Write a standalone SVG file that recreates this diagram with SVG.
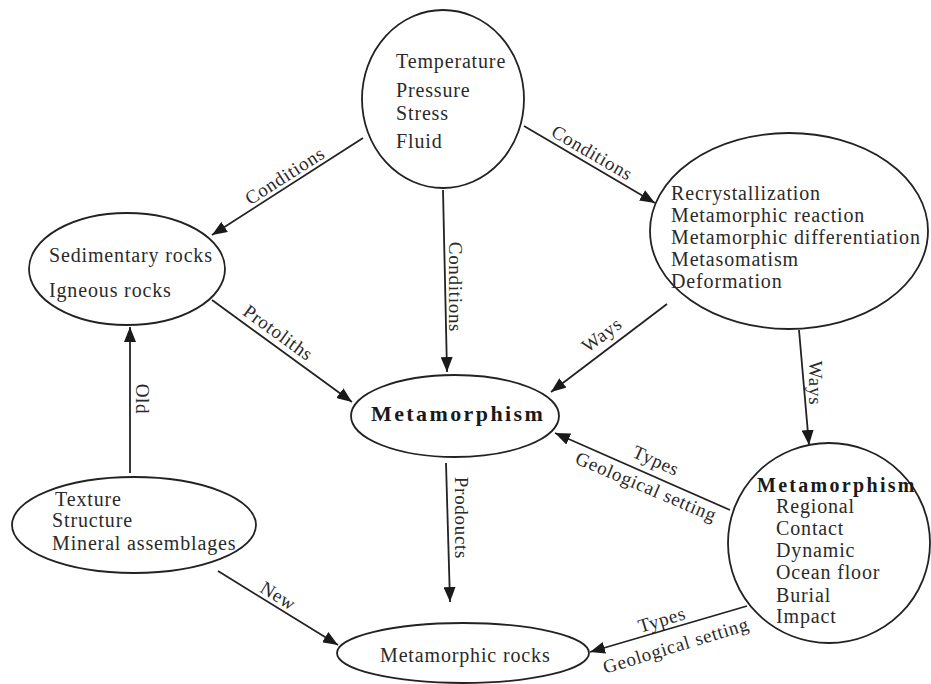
<svg xmlns="http://www.w3.org/2000/svg" width="931" height="684" viewBox="0 0 931 684">
<style>
.n{fill:none;stroke:#222;stroke-width:1.8}
.t{font-family:"Liberation Serif","Times New Roman",serif;font-size:20px;letter-spacing:0.85px;fill:#2a2a2a}
.b{font-family:"Liberation Serif","Times New Roman",serif;font-weight:bold;fill:#1a1a1a}
.l{font-family:"Liberation Serif","Times New Roman",serif;font-size:19px;letter-spacing:0.7px;fill:#2a2a2a;text-anchor:middle}
.e{stroke:#222;stroke-width:1.8;fill:none;marker-end:url(#ah)}
</style>
<defs>
<marker id="ah" markerUnits="userSpaceOnUse" markerWidth="16" markerHeight="12" refX="15" refY="6" orient="auto">
<path d="M0,0 L15,6 L0,12 z" fill="#1a1a1a"/>
</marker>
</defs>
<rect width="931" height="684" fill="#fff"/>
<g id="edges">
<line class="e" x1="363" y1="138" x2="212" y2="235"/>
<line class="e" x1="443" y1="190" x2="447" y2="372"/>
<line class="e" x1="524" y1="126" x2="655" y2="203"/>
<line class="e" x1="212" y1="300" x2="352" y2="402"/>
<line class="e" x1="667" y1="304" x2="551" y2="392"/>
<line class="e" x1="799" y1="330" x2="809" y2="445"/>
<line class="e" x1="730" y1="510" x2="555" y2="433"/>
<line class="e" x1="446" y1="463" x2="450" y2="602"/>
<line class="e" x1="747" y1="606" x2="590" y2="652"/>
<line class="e" x1="130" y1="473" x2="130" y2="327"/>
<line class="e" x1="218" y1="571" x2="338" y2="645"/>
<text class="l" transform="translate(285,176) rotate(-32.7)" y="6">Conditions</text>
<text class="l" transform="translate(592,153) rotate(30.4)" y="6">Conditions</text>
<text class="l" transform="translate(455,287) rotate(90)" y="6">Conditions</text>
<text class="l" transform="translate(278,333) rotate(36)" y="6">Protoliths</text>
<text class="l" transform="translate(602,335) rotate(-37)" y="6">Ways</text>
<text class="l" transform="translate(815,383) rotate(90)" y="6">Ways</text>
<text class="l" transform="translate(656,461) rotate(24)" y="6">Types</text>
<text class="l" transform="translate(646,487) rotate(23)" y="6">Geological setting</text>
<text class="l" transform="translate(461,518) rotate(90)" y="6">Prodoucts</text>
<text class="l" transform="translate(662,620) rotate(-17)" y="6">Types</text>
<text class="l" transform="translate(676,646) rotate(-17)" y="6">Geological setting</text>
<text class="l" transform="translate(142,399) rotate(90)" y="6">Old</text>
<text class="l" transform="translate(278,596) rotate(31.7)" y="6">New</text>
</g>
<g id="conditions">
<ellipse class="n" cx="443" cy="99" rx="81" ry="89"/>
<text class="t" x="396" y="68">Temperature</text>
<text class="t" x="396" y="97">Pressure</text>
<text class="t" x="396" y="120">Stress</text>
<text class="t" x="396" y="148">Fluid</text>
</g>
<g id="processes">
<ellipse class="n" cx="789" cy="231" rx="139" ry="98"/>
<text class="t" x="671" y="200">Recrystallization</text>
<text class="t" x="671" y="222">Metamorphic reaction</text>
<text class="t" x="671" y="244">Metamorphic differentiation</text>
<text class="t" x="671" y="266">Metasomatism</text>
<text class="t" x="671" y="288">Deformation</text>
</g>
<g id="protoliths">
<ellipse class="n" cx="127" cy="269" rx="98" ry="56"/>
<text class="t" x="49" y="262">Sedimentary rocks</text>
<text class="t" x="49" y="297">Igneous rocks</text>
</g>
<g id="metamorphism">
<ellipse class="n" cx="455" cy="416" rx="104" ry="41"/>
<text class="b" x="371" y="421" font-size="22" letter-spacing="2.4">Metamorphism</text>
</g>
<g id="types">
<ellipse class="n" cx="829" cy="543" rx="101" ry="100"/>
<text class="b" x="757" y="492" font-size="20" letter-spacing="2.3">Metamorphism</text>
<text class="t" x="776" y="513">Regional</text>
<text class="t" x="776" y="535">Contact</text>
<text class="t" x="776" y="557">Dynamic</text>
<text class="t" x="776" y="579">Ocean floor</text>
<text class="t" x="776" y="602">Burial</text>
<text class="t" x="776" y="623">Impact</text>
</g>
<g id="features">
<ellipse class="n" cx="134" cy="525" rx="122" ry="48"/>
<text class="t" x="55" y="506">Texture</text>
<text class="t" x="52" y="527">Structure</text>
<text class="t" x="52" y="550">Mineral assemblages</text>
</g>
<g id="rocks">
<ellipse class="n" cx="463" cy="653" rx="126" ry="30"/>
<text class="t" x="380" y="662">Metamorphic  rocks</text>
</g>
</svg>
